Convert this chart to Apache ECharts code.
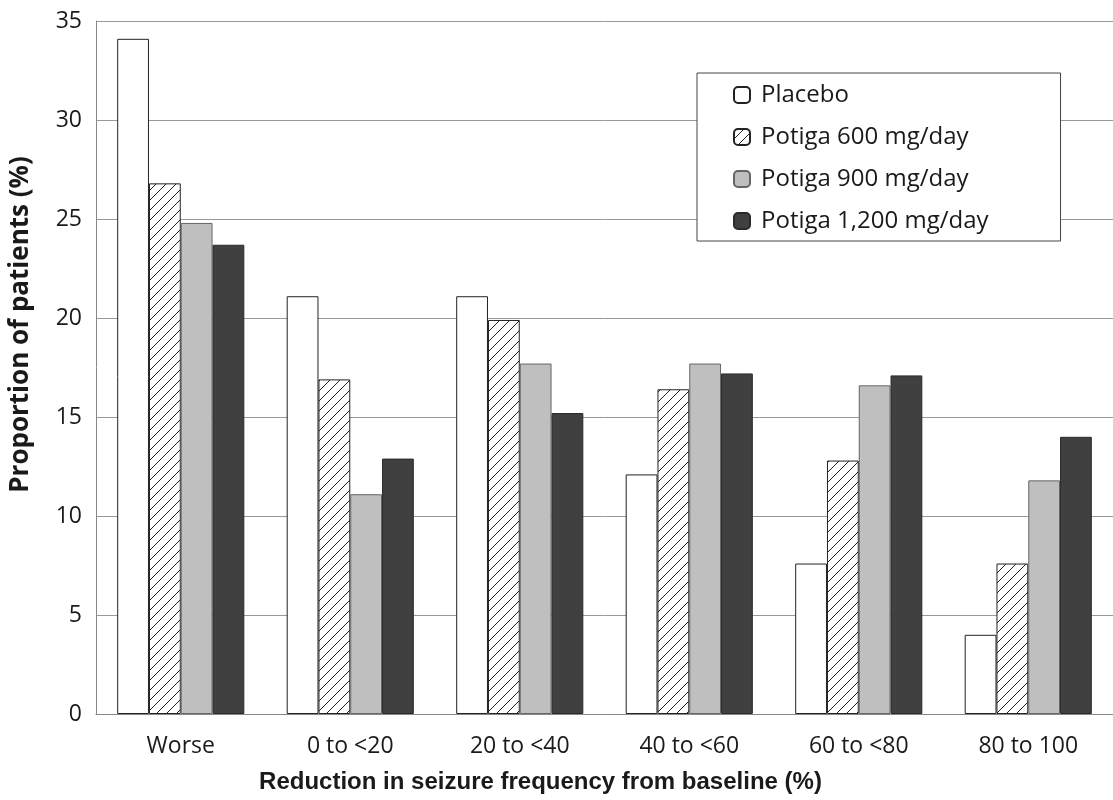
<!DOCTYPE html>
<html>
<head>
<meta charset="utf-8">
<script src="https://cdn.jsdelivr.net/npm/echarts@6/dist/echarts.min.js"></script>
<style>
html,body{margin:0;padding:0;background:#fff;}
#chart{width:1113px;height:800px;}
</style>
</head>
<body>
<div id="chart"></div>
<script>
const categories = ['Worse', '0 to <20', '20 to <40', '40 to <60', '60 to <80', '80 to 100'];
const seriesNames = ['Placebo', 'Potiga 600 mg/day', 'Potiga 900 mg/day', 'Potiga 1,200 mg/day'];
const placebo = [34.1, 21.1, 21.1, 12.1, 7.6, 4.0];
const potiga600 = [26.8, 16.9, 19.9, 16.4, 12.8, 7.6];
const potiga900 = [24.8, 11.1, 17.7, 17.7, 16.6, 11.8];
const potiga1200 = [23.7, 12.9, 15.2, 17.2, 17.1, 14.0];
const yTicks = [0, 5, 10, 15, 20, 25, 30, 35];

function hatch() {
  const c = document.createElement('canvas');
  c.width = 10; c.height = 10;
  const ctx = c.getContext('2d');
  ctx.fillStyle = '#ffffff';
  ctx.fillRect(0, 0, 10, 10);
  ctx.strokeStyle = '#222';
  ctx.lineWidth = 1;
  ctx.beginPath();
  ctx.moveTo(0, 10); ctx.lineTo(10, 0);
  ctx.moveTo(-5, 5); ctx.lineTo(5, -5);
  ctx.moveTo(5, 15); ctx.lineTo(15, 5);
  ctx.stroke();
  return c;
}

const styles = [
  { color: '#ffffff', borderColor: '#222', borderWidth: 1 },
  { color: { image: hatch(), repeat: 'repeat' }, borderColor: '#222', borderWidth: 1 },
  { color: '#bfbfbf', borderColor: '#666', borderWidth: 1 },
  { color: '#404040', borderColor: '#2a2a2a', borderWidth: 1 }
];
const dataArrays = [placebo, potiga600, potiga900, potiga1200];

const chart = echarts.init(document.getElementById('chart'));
const font = '"Open Sans", Lato, sans-serif';
chart.setOption({
  backgroundColor: '#ffffff',
  animation: false,
  grid: { left: 96, right: 0, top: 21, bottom: 86, containLabel: false },
  legend: {
    orient: 'vertical',
    left: 697,
    top: 73,
    padding: [10, 72, 8, 36],
    itemWidth: 16,
    itemHeight: 16,
    itemGap: 18,
    backgroundColor: '#ffffff',
    borderColor: '#444',
    borderWidth: 1,
    textStyle: { fontFamily: font, fontSize: 24, color: '#1a1a1a', padding: [0, 0, 0, 6] },
    data: seriesNames
  },
  xAxis: {
    type: 'category',
    data: categories,
    name: 'Reduction in seizure frequency from baseline (%)',
    nameLocation: 'middle',
    nameGap: 56,
    nameTextStyle: { fontFamily: '"Liberation Sans", Arial, sans-serif', fontWeight: 'bold', fontSize: 24, color: '#1a1a1a', padding: [0, 128, 0, 0] },
    axisLine: { lineStyle: { color: '#888', width: 1 } },
    axisTick: { show: false },
    axisLabel: { fontFamily: font, fontSize: 23, color: '#1a1a1a', margin: 21 }
  },
  yAxis: {
    type: 'value',
    min: 0, max: 35, interval: 5,
    name: 'Proportion of patients (%)',
    nameLocation: 'middle',
    nameGap: 62,
    nameTextStyle: { fontFamily: '"Open Sans", sans-serif', fontWeight: 'bold', fontSize: 26, color: '#1a1a1a', padding: [0, 0, 0, 86] },
    axisLine: { show: true, lineStyle: { color: '#888', width: 1 } },
    axisTick: { show: false },
    axisLabel: { fontFamily: font, fontSize: 23, color: '#1a1a1a', margin: 14,
      formatter: v => (yTicks.indexOf(v) >= 0 ? String(v) : '') },
    splitLine: { show: true, lineStyle: { color: '#999', width: 1 } }
  },
  series: seriesNames.map((n, i) => ({
    name: n,
    type: 'bar',
    data: dataArrays[i],
    barGap: '0%',
    barCategoryGap: '25%',
    itemStyle: styles[i]
  }))
});
</script>
</body>
</html>
